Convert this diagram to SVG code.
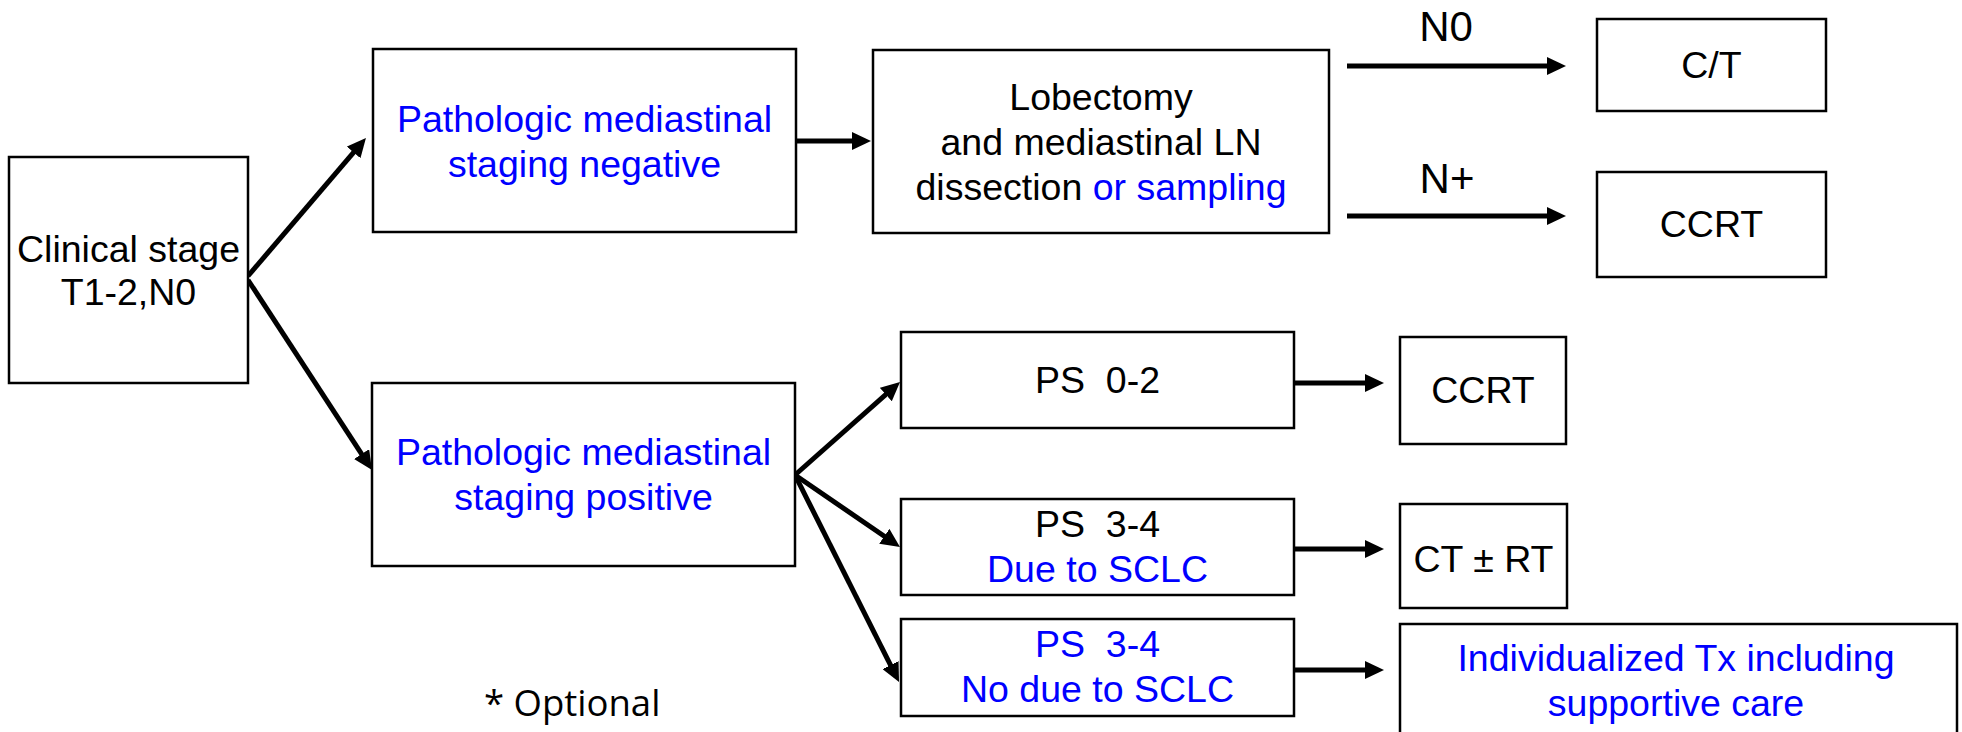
<svg xmlns="http://www.w3.org/2000/svg" width="1962" height="732" viewBox="0 0 1962 732">
<style>
.box{fill:#fff;stroke:#000;stroke-width:2.5}
.t{font-family:"Liberation Sans",Arial,sans-serif;font-size:37.5px;text-anchor:middle;fill:#000;white-space:pre}
.b{fill:#0000ff}
.lbl{font-family:"Liberation Sans",Arial,sans-serif;font-size:42px;text-anchor:middle;fill:#000}
.c{stroke:#000;fill:none;stroke-width:5}
.d{stroke:#000;fill:none;stroke-width:5}
</style>
<defs>
<marker id="ah" markerUnits="userSpaceOnUse" markerWidth="19" markerHeight="18" viewBox="0 0 19 18" refX="4" refY="9" orient="auto">
<path d="M0,0 L19,9 L0,18 z" fill="#000"/>
</marker>
</defs>
<rect width="1962" height="732" fill="#fff"/>
<g id="connectors">
<line class="d" x1="248" y1="276" x2="356.2" y2="149.4" marker-end="url(#ah)"/>
<line class="d" x1="248" y1="280" x2="363.8" y2="457.4" marker-end="url(#ah)"/>
<line class="c" x1="796" y1="141" x2="856" y2="141" marker-end="url(#ah)"/>
<line class="c" x1="1347" y1="66" x2="1551" y2="66" marker-end="url(#ah)"/>
<line class="c" x1="1347" y1="216" x2="1551" y2="216" marker-end="url(#ah)"/>
<line class="d" x1="795" y1="475" x2="888.8" y2="391.9" marker-end="url(#ah)"/>
<line class="d" x1="795" y1="475" x2="887.6" y2="538.5" marker-end="url(#ah)"/>
<line class="d" x1="795" y1="475" x2="892.3" y2="668.6" marker-end="url(#ah)"/>
<line class="c" x1="1294" y1="383" x2="1369" y2="383" marker-end="url(#ah)"/>
<line class="c" x1="1294" y1="549" x2="1369" y2="549" marker-end="url(#ah)"/>
<line class="c" x1="1294" y1="670" x2="1369" y2="670" marker-end="url(#ah)"/>
<text class="lbl" x="1446" y="41">N0</text>
<text class="lbl" x="1447" y="193">N+</text>
</g>
<g id="clinical">
<rect class="box" x="9" y="157" width="239" height="226"/>
<text class="t" x="128.5" y="262">Clinical stage</text>
<text class="t" x="128.5" y="305">T1-2,N0</text>
</g>
<g id="path-neg">
<rect class="box" x="373" y="49" width="423" height="183"/>
<text class="t b" x="584.5" y="132">Pathologic mediastinal</text>
<text class="t b" x="584.5" y="177">staging negative</text>
</g>
<g id="lobectomy">
<rect class="box" x="873" y="50" width="456" height="183"/>
<text class="t" x="1101" y="110">Lobectomy</text>
<text class="t" x="1101" y="155">and mediastinal LN</text>
<text class="t" x="1101" y="200">dissection <tspan class="b">or sampling</tspan></text>
</g>
<g id="ct">
<rect class="box" x="1597" y="19" width="229" height="92"/>
<text class="t" x="1711.5" y="78">C/T</text>
</g>
<g id="ccrt-top">
<rect class="box" x="1597" y="172" width="229" height="105"/>
<text class="t" x="1711.5" y="237">CCRT</text>
</g>
<g id="path-pos">
<rect class="box" x="372" y="383" width="423" height="183"/>
<text class="t b" x="583.5" y="465">Pathologic mediastinal</text>
<text class="t b" x="583.5" y="510">staging positive</text>
</g>
<g id="ps02">
<rect class="box" x="901" y="332" width="393" height="96"/>
<text class="t" x="1097.5" y="393">PS  0-2</text>
</g>
<g id="ps34-due">
<rect class="box" x="901" y="499" width="393" height="96"/>
<text class="t" x="1097.5" y="537">PS  3-4</text>
<text class="t b" x="1097.5" y="582">Due to SCLC</text>
</g>
<g id="ps34-nodue">
<rect class="box" x="901" y="619" width="393" height="97"/>
<text class="t b" x="1097.5" y="657">PS  3-4</text>
<text class="t b" x="1097.5" y="702">No due to SCLC</text>
</g>
<g id="ccrt">
<rect class="box" x="1400" y="337" width="166" height="107"/>
<text class="t" x="1483" y="403">CCRT</text>
</g>
<g id="ct-rt">
<rect class="box" x="1400" y="504" width="167" height="104"/>
<text class="t" x="1483.5" y="572">CT ± RT</text>
</g>
<g id="individualized">
<rect class="box" x="1400" y="624" width="557" height="130"/>
<text class="t b" x="1676" y="671">Individualized Tx including</text>
<text class="t b" x="1676" y="716">supportive care</text>
</g>
<text x="484" y="716" style="font-family:'Open Sans','Noto Sans',sans-serif;font-size:36.5px;fill:#000">* Optional</text>
</svg>
